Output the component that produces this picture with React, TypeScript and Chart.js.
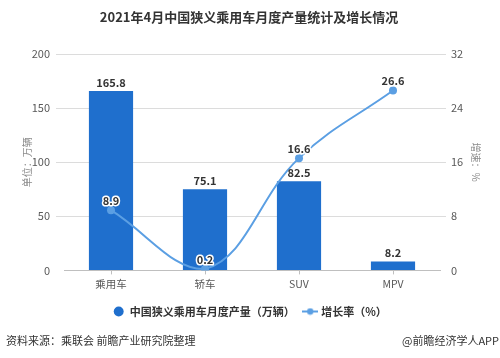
import React, { useEffect, useRef } from 'react';
import { Chart, registerables } from 'chart.js';

Chart.register(...registerables);

const TITLE = '2021年4月中国狭义乘用车月度产量统计及增长情况';
const categories = ['乘用车', '轿车', 'SUV', 'MPV'];
const production = [165.8, 75.1, 82.5, 8.2];
const growth = [8.9, 0.2, 16.6, 26.6];
const seriesNames = ['中国狭义乘用车月度产量（万辆）', '增长率（%）'];
const leftAxis = { min: 0, max: 200, step: 50, title: '单位：万辆' };
const rightAxis = { min: 0, max: 32, step: 8, title: '增速：%' };
const SOURCE = '资料来源：乘联会 前瞻产业研究院整理';
const CREDIT = '@前瞻经济学人APP';

const FONT = "'Microsoft YaHei', 'Noto Sans CJK SC', 'Noto Sans', sans-serif";
const BAR_COLOR = '#1f6fcd';
const LINE_COLOR = '#5b9fe3';
const TEXT = '#333333';
const TICK = '#595959';

function makeLineIcon(): HTMLCanvasElement {
  const c = document.createElement('canvas');
  c.width = 16;
  c.height = 8;
  const g = c.getContext('2d')!;
  g.strokeStyle = LINE_COLOR;
  g.lineWidth = 2;
  g.beginPath();
  g.moveTo(0, 4);
  g.lineTo(16, 4);
  g.stroke();
  g.fillStyle = LINE_COLOR;
  g.beginPath();
  g.arc(8, 4, 3.2, 0, Math.PI * 2);
  g.fill();
  return c;
}

const decorPlugin = {
  id: 'decor',
  afterDraw(chart: any) {
    const ctx = chart.ctx;
    ctx.save();
    ctx.fillStyle = TEXT;
    ctx.textBaseline = 'middle';
    ctx.font = `bold 13px ${FONT}`;
    ctx.textAlign = 'center';
    ctx.fillText(TITLE, 249, 17);
    ctx.font = `11px ${FONT}`;
    ctx.textAlign = 'left';
    ctx.fillText(SOURCE, 6, 341);
    ctx.textAlign = 'right';
    ctx.fillText(CREDIT, 499, 341);
    ctx.restore();
  },
};

const labelPlugin = {
  id: 'valueLabels',
  afterDatasetsDraw(chart: any) {
    const ctx = chart.ctx;
    ctx.save();
    ctx.font = `bold 11px ${FONT}`;
    ctx.textAlign = 'center';
    ctx.textBaseline = 'bottom';
    const barMeta = chart.getDatasetMeta(0);
    barMeta.data.forEach((el: any, i: number) => {
      ctx.fillStyle = TEXT;
      ctx.fillText(production[i].toFixed(1), el.x, el.y - 3);
    });
    const lineMeta = chart.getDatasetMeta(1);
    lineMeta.data.forEach((el: any, i: number) => {
      const t = growth[i].toFixed(1);
      ctx.lineWidth = 3;
      ctx.strokeStyle = '#ffffff';
      ctx.lineJoin = 'round';
      ctx.strokeText(t, el.x, el.y - 4);
      ctx.fillStyle = TEXT;
      ctx.fillText(t, el.x, el.y - 4);
    });
    ctx.restore();
  },
};

export default function App() {
  const ref = useRef<HTMLCanvasElement>(null);
  useEffect(() => {
    document.body.style.margin = '0';
    const icon = makeLineIcon();
    const chart = new Chart(ref.current!, {
      type: 'bar',
      data: {
        labels: categories,
        datasets: [
          {
            type: 'bar',
            label: seriesNames[0],
            data: production,
            backgroundColor: BAR_COLOR,
            barPercentage: 0.94,
            categoryPercentage: 0.5,
            yAxisID: 'y',
            order: 2,
            pointStyle: 'circle',
          } as any,
          {
            type: 'line',
            label: seriesNames[1],
            data: growth,
            borderColor: LINE_COLOR,
            backgroundColor: LINE_COLOR,
            borderWidth: 2,
            pointRadius: 4,
            pointBackgroundColor: LINE_COLOR,
            pointBorderWidth: 0,
            tension: 0.4,
            yAxisID: 'y1',
            order: 1,
          } as any,
        ],
      },
      options: {
        responsive: false,
        animation: false,
        layout: { padding: { top: 54, bottom: 31, left: 0, right: 0 } },
        plugins: {
          title: { display: false },
          tooltip: { enabled: false },
          legend: {
            display: true,
            position: 'bottom',
            labels: {
              usePointStyle: true,
              boxHeight: 7,
              padding: 10,
              color: TEXT,
              font: { family: FONT, size: 11, weight: 'bold' },
              generateLabels(c: any) {
                const items = Chart.defaults.plugins.legend.labels.generateLabels(c);
                items.sort((a: any, b: any) => a.datasetIndex - b.datasetIndex);
                items.forEach((it: any) => {
                  if (it.datasetIndex === 0) {
                    it.pointStyle = 'circle';
                    it.fillStyle = BAR_COLOR;
                    it.strokeStyle = BAR_COLOR;
                    it.lineWidth = 0;
                  } else {
                    it.pointStyle = icon;
                  }
                });
                return items;
              },
            },
          },
        },
        scales: {
          x: {
            grid: {
              display: true,
              drawOnChartArea: false,
              offset: false,
              tickLength: 4,
              color: '#bfbfbf',
            },
            border: { display: true, color: '#bfbfbf' },
            ticks: { color: TICK, font: { family: FONT, size: 10.5 }, padding: 3 },
            afterFit(s: any) {
              s.height += 3;
            },
          },
          y: {
            position: 'left',
            min: leftAxis.min,
            max: leftAxis.max,
            grid: {
              color: '#dcdcdc',
              tickLength: 8,
              tickColor: (c: any) => (c.tick && c.tick.value === 0 ? 'rgba(0,0,0,0)' : '#dcdcdc'),
            },
            border: { display: false },
            ticks: { stepSize: leftAxis.step, color: TICK, font: { family: FONT, size: 11 }, padding: 6 },
            title: {
              display: true,
              text: leftAxis.title,
              color: '#8c8c8c',
              font: { family: FONT, size: 10 },
              padding: { top: 21, bottom: 0 },
            },
            afterFit(s: any) {
              s.width = 64;
            },
          },
          y1: {
            position: 'right',
            min: rightAxis.min,
            max: rightAxis.max,
            grid: {
              drawOnChartArea: false,
              tickLength: 6,
              tickColor: (c: any) => (c.tick && c.tick.value === 0 ? 'rgba(0,0,0,0)' : '#dcdcdc'),
            },
            border: { display: false },
            ticks: { stepSize: rightAxis.step, color: TICK, font: { family: FONT, size: 11 }, padding: 5 },
            title: {
              display: true,
              text: rightAxis.title,
              color: '#8c8c8c',
              font: { family: FONT, size: 10 },
              padding: { top: 18, bottom: 0 },
            },
            afterFit(s: any) {
              s.width = 60;
            },
          },
        },
      },
      plugins: [labelPlugin, decorPlugin],
    } as any);
    return () => chart.destroy();
  }, []);
  return (
    <div style={{ width: 500, height: 358 }}>
      <canvas ref={ref} width={500} height={358} />
    </div>
  );
}
